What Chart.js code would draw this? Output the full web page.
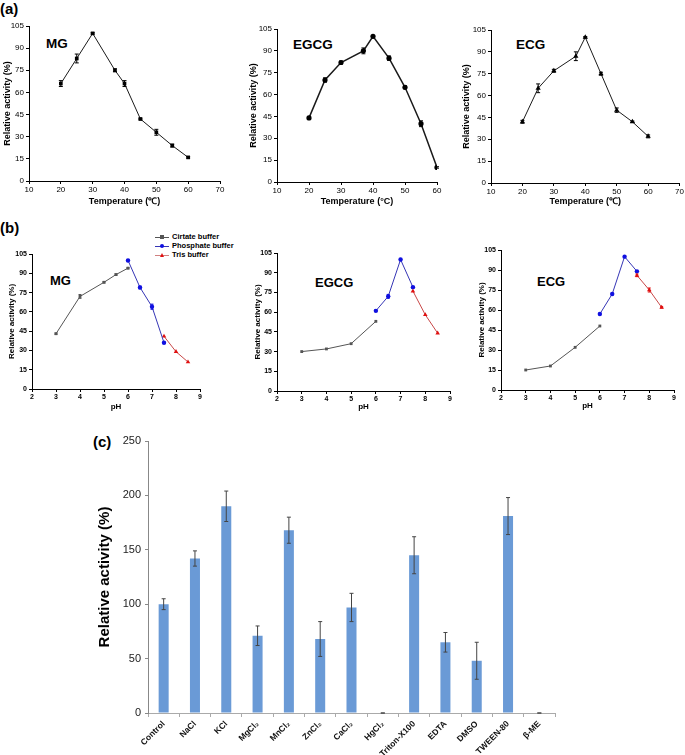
<!DOCTYPE html>
<html><head><meta charset="utf-8">
<script src="https://cdn.jsdelivr.net/npm/chart.js@4/dist/chart.umd.min.js"></script>
<style>
body{margin:0;background:#fff;}
#wrap{position:relative;width:685px;height:755px;overflow:hidden;font-family:"Liberation Sans",Arial,sans-serif;background:#fff;}
canvas{position:absolute;}
.lbl{position:absolute;font-weight:bold;color:#000;white-space:nowrap;line-height:1;}
.leg{position:absolute;left:155px;font-size:7.5px;font-weight:bold;color:#000;white-space:nowrap;line-height:1;}
.leg .ln{position:absolute;left:0;top:4px;width:14px;height:1px;}
.leg .mk{position:absolute;left:5px;top:2px;width:4px;height:4px;}
.leg span.t{position:absolute;left:17px;top:0;}
</style></head><body><div id="wrap">
<div class="lbl" style="left:0;top:1px;font-size:15px;">(a)</div>
<div class="lbl" style="left:0;top:220px;font-size:15px;">(b)</div>
<div class="lbl" style="left:93px;top:434px;font-size:15px;">(c)</div>
<div class="lbl" style="left:46px;top:37px;font-size:13.5px;">MG</div>
<div class="lbl" style="left:293px;top:38px;font-size:13.5px;">EGCG</div>
<div class="lbl" style="left:516px;top:38px;font-size:13.5px;">ECG</div>
<div class="lbl" style="left:50px;top:274px;font-size:13px;">MG</div>
<div class="lbl" style="left:315px;top:276px;font-size:13px;">EGCG</div>
<div class="lbl" style="left:537px;top:275px;font-size:13px;">ECG</div>
<div class="leg" style="top:233px;"><div class="ln" style="background:#555"></div><div class="mk" style="background:#555"></div><span class="t">Cirtate buffer</span></div>
<div class="leg" style="top:242px;"><div class="ln" style="background:#3535b5"></div><div class="mk" style="background:#1010e0;border-radius:50%"></div><span class="t">Phosphate buffer</span></div>
<div class="leg" style="top:251px;"><div class="ln" style="background:#d08080"></div><div class="mk" style="width:0;height:0;background:none;border-left:2.5px solid transparent;border-right:2.5px solid transparent;border-bottom:4px solid #e01010;"></div><span class="t">Tris buffer</span></div>
<canvas id="a1" width="230" height="196" style="left:0;top:16px;"></canvas>
<canvas id="a2" width="207" height="196" style="left:240px;top:16px;"></canvas>
<canvas id="a3" width="225" height="196" style="left:460px;top:16px;"></canvas>
<canvas id="b1" width="210" height="175" style="left:0;top:240px;"></canvas>
<canvas id="b2" width="210" height="175" style="left:250px;top:240px;"></canvas>
<canvas id="b3" width="215" height="175" style="left:470px;top:240px;"></canvas>
<canvas id="c1" width="475" height="325" style="left:90px;top:430px;"></canvas>
</div>
<script>
// ---------- DATA ----------
const tempX = [20, 25, 30, 37, 40, 45, 50, 55, 60];
const mgTemp = [66, 83, 100, 75, 66, 42, 33, 24, 16];
const mgTempErr = [2, 3, 0.5, 1, 2, 0.5, 2, 1, 0.5];
const egcgTemp = [44, 70, 82, 90, 100, 85, 65, 40, 10];
const egcgTempErr = [1, 1.5, 1, 2, 0.5, 1.5, 1, 2, 0.5];
const ecgTemp = [42, 65, 77, 87, 100, 75, 50, 42, 32];
const ecgTempErr = [1, 3, 1, 3, 0.5, 1, 1.5, 0.5, 1];
const tempTicksMax = [70, 60, 70];

const mgCitPH = [3, 4, 5, 5.5, 6];
const citPH = [3, 4, 5, 6];
const phoPH = [6, 6.5, 7, 7.5];
const trisPH = [7.5, 8, 8.5];
const mgCit = [43, 72, 83, 89, 94];
const mgPho = [100, 79, 64, 36];
const mgTris = [41, 29, 21];
const mgCitErr = [0.5, 1.5, 0.5, 0.5, 0.5];
const mgPhoErr = [0.5, 1, 2, 0.5];
const egcgCit = [30, 32, 36, 53];
const egcgPho = [61, 72, 100, 79];
const egcgTris = [76, 58, 44];
const egcgPhoErr = [0.5, 1.5, 0.5, 0.5];
const ecgCit = [15, 18, 32, 48];
const ecgPho = [57, 72, 100, 89];
const ecgTris = [86, 75, 62];
const ecgTrisErr = [1, 1.5, 0.5];

const effectors = ['Control', 'NaCl', 'KCl', 'MgCl\u2082', 'MnCl\u2082', 'ZnCl\u2082', 'CaCl\u2082', 'HgCl\u2082', 'Triton-X100', 'EDTA', 'DMSO', 'TWEEN-80', '\u03B2-ME'];
const activity = [100, 142, 190, 71, 168, 68, 97, 0, 145, 65, 48, 181, 0];
const activityErr = [5, 7, 14, 9, 12, 16, 13, 0, 17, 9, 17, 17, 0];

// ---------- HELPERS ----------
Chart.defaults.font.family = '"Liberation Sans", Arial, sans-serif';
Chart.defaults.color = '#000';

const errPlugin = {
  id: 'errbars',
  afterDatasetsDraw(chart) {
    const ctx = chart.ctx, ys = chart.scales.y;
    chart.data.datasets.forEach((ds, i) => {
      if (!ds.errors) return;
      const meta = chart.getDatasetMeta(i);
      ctx.save();
      ctx.strokeStyle = ds.errColor || '#000';
      ctx.lineWidth = ds.errWidth || 1;
      meta.data.forEach((el, j) => {
        const e = ds.errors[j];
        if (e == null) return;
        const d = ds.data[j];
        const v = (typeof d === 'object') ? d.y : d;
        const yt = ys.getPixelForValue(v + e), yb = ys.getPixelForValue(v - e);
        const x = el.x, cap = ds.errCap || 2;
        ctx.beginPath();
        ctx.moveTo(x, yt); ctx.lineTo(x, yb);
        ctx.moveTo(x - cap, yt); ctx.lineTo(x + cap, yt);
        ctx.moveTo(x - cap, yb); ctx.lineTo(x + cap, yb);
        ctx.stroke();
      });
      ctx.restore();
    });
  }
};

function pts(xs, ys) { return xs.map((x, i) => ({x: x, y: ys[i]})); }

function lineChart(id, geo, datasets, xs, titles, fonts) {
  new Chart(document.getElementById(id), {
    type: 'line',
    data: {datasets: datasets},
    plugins: [errPlugin],
    options: {
      responsive: false, animation: false,
      layout: {padding: {top: geo.pt, right: geo.pr, left: 0, bottom: 0}},
      plugins: {legend: {display: false}, tooltip: {enabled: false}},
      scales: {
        x: {
          type: 'linear', min: xs.min, max: xs.max,
          ticks: {stepSize: xs.step, font: {size: fonts.tick, weight: fonts.tickW}, color: '#000', padding: 1, maxRotation: 0},
          grid: {drawOnChartArea: false, tickLength: 3, color: '#000'},
          border: {color: '#000', width: 1},
          title: {display: true, text: titles.x, font: {size: fonts.title, weight: 'bold'}, color: '#000', padding: {top: 0, bottom: geo.xtb}},
          afterFit: s => { s.height = geo.xh; }
        },
        y: {
          min: 0, max: 105,
          ticks: {stepSize: 15, font: {size: fonts.tick, weight: fonts.tickW}, color: '#000', padding: 2},
          grid: {drawOnChartArea: false, tickLength: 3, color: '#000'},
          border: {color: '#000', width: 1},
          title: {display: true, text: 'Relative activity (%)', font: {size: fonts.title, weight: 'bold'}, color: '#000', padding: {top: geo.ytp, bottom: 0}},
          afterFit: s => { s.width = geo.yw; }
        }
      }
    }
  });
}

function tempDs(ys, errs, style, r, bw) {
  return [{data: pts(tempX, ys), errors: errs, borderColor: '#1a1a1a', borderWidth: bw, backgroundColor: '#000',
    pointStyle: style, pointRadius: r, pointBorderWidth: 0, pointBackgroundColor: '#000', tension: 0, errCap: 2}];
}
const fA = {tick: 8, tickW: 'normal', title: 9};
lineChart('a1', {pt: 10, pr: 10, yw: 29, xh: 31, xtb: 4.6, ytp: 2}, tempDs(mgTemp, mgTempErr, 'rect', 2.6, 1), {min: 10, max: tempTicksMax[0], step: 10}, {x: 'Temperature (\u2103)'}, fA);
lineChart('a2', {pt: 13, pr: 10, yw: 37, xh: 30, xtb: 4.6, ytp: 8.6}, tempDs(egcgTemp, egcgTempErr, 'circle', 2.6, 1.5), {min: 10, max: tempTicksMax[1], step: 10}, {x: 'Temperature (\u00B0C)'}, fA);
lineChart('a3', {pt: 14, pr: 4, yw: 31, xh: 29, xtb: 4.6, ytp: 1.6}, tempDs(ecgTemp, ecgTempErr, 'triangle', 3, 1), {min: 10, max: tempTicksMax[2], step: 10}, {x: 'Temperature (\u2103)'}, fA);

function phDs(cx, cy, cerr, py, perr, ty, terr) {
  return [
    {data: pts(cx, cy), errors: cerr, borderColor: '#555', borderWidth: 1, pointStyle: 'rect', pointRadius: 2, pointBorderWidth: 0, pointBackgroundColor: '#555', errColor: '#555', errCap: 1.5},
    {data: pts(phoPH, py), errors: perr, borderColor: '#3535b5', borderWidth: 1, pointStyle: 'circle', pointRadius: 2.2, pointBorderWidth: 0, pointBackgroundColor: '#1010e0', errColor: '#1010e0', errCap: 1.5},
    {data: pts(trisPH, ty), errors: terr, borderColor: '#c84848', borderWidth: 1, pointStyle: 'triangle', pointRadius: 2.6, pointBorderWidth: 0, pointBackgroundColor: '#e01010', errColor: '#e01010', errCap: 1.5}
  ];
}
const fB = {tick: 7, tickW: 'bold', title: 8};
const phAxis = {min: 2, max: 9, step: 1};
lineChart('b1', {pt: 14, pr: 10, yw: 32, xh: 26, xtb: 3.2, ytp: 7.2}, phDs(mgCitPH, mgCit, mgCitErr, mgPho, mgPhoErr, mgTris, null), phAxis, {x: 'pH'}, fB);
lineChart('b2', {pt: 13, pr: 10, yw: 27, xh: 24, xtb: 3.2, ytp: 3.2}, phDs(citPH, egcgCit, null, egcgPho, egcgPhoErr, egcgTris, null), phAxis, {x: 'pH'}, fB);
lineChart('b3', {pt: 10, pr: 11, yw: 31, xh: 25, xtb: 4.2, ytp: 7.2}, phDs(citPH, ecgCit, null, ecgPho, null, ecgTris, ecgTrisErr), phAxis, {x: 'pH'}, fB);

// ---------- (c) bar chart ----------
new Chart(document.getElementById('c1'), {
  type: 'bar',
  data: {labels: effectors, datasets: [{data: activity, errors: activityErr, backgroundColor: 'rgb(106,154,214)', borderWidth: 0,
    barPercentage: 0.32, categoryPercentage: 1, errColor: '#444', errCap: 2}]},
  plugins: [errPlugin],
  options: {
    responsive: false, animation: false,
    layout: {padding: {top: 11, right: 10, left: 0, bottom: 0}},
    plugins: {legend: {display: false}, tooltip: {enabled: false}},
    scales: {
      x: {
        ticks: {minRotation: 45, maxRotation: 45, autoSkip: false, font: {size: 8.5, weight: 'bold'}, color: '#111', padding: 2},
        grid: {offset: true, drawOnChartArea: false, tickLength: 4, color: '#aaa'},
        border: {color: '#aaa', width: 1},
        afterFit: s => { s.height = 42; }
      },
      y: {
        min: 0, max: 250,
        ticks: {stepSize: 50, font: {size: 11}, color: '#222', padding: 4},
        grid: {drawOnChartArea: false, tickLength: 3, color: '#888'},
        border: {color: '#888', width: 1},
        title: {display: true, text: 'Relative activity (%)', font: {size: 15, weight: 'bold'}, color: '#000', padding: {top: 6, bottom: 0}},
        afterFit: s => { s.width = 58; }
      }
    }
  }
});
</script>
</body></html>
